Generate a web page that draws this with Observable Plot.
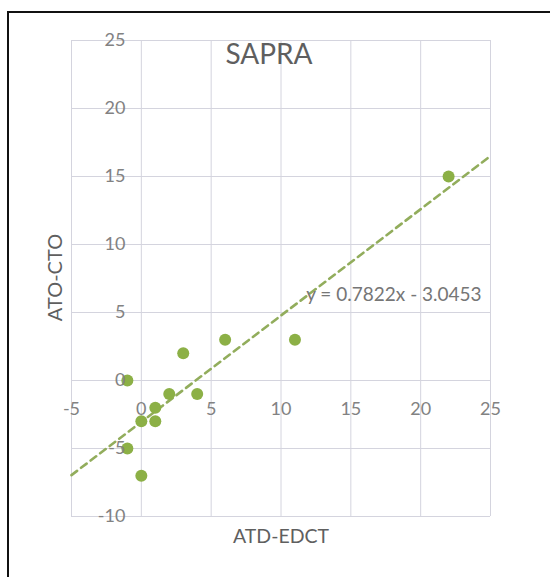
<!DOCTYPE html>
<html>
<head>
<meta charset="utf-8">
<script src="https://cdn.jsdelivr.net/npm/d3@7"></script>
<script src="https://cdn.jsdelivr.net/npm/@observablehq/plot@0.6"></script>
<style>
  html, body { margin: 0; padding: 0; background: #fff; }
  #wrap { position: relative; width: 550px; height: 577px; overflow: hidden; }
  #border { position: absolute; left: 7px; top: 11px; width: 600px; height: 600px;
            border-left: 2px solid #111; border-top: 2px solid #111; pointer-events: none; }
</style>
</head>
<body>
<div id="wrap"><div id="border"></div></div>
<script>
// Data
const atdEdct = [22, 11, 6, 3, -1, 2, 4, 1, 0, 1, -1, 0];
const atoCto  = [15, 3, 3, 2, 0, -1, -1, -2, -3, -3, -5, -7];
const xTicks = [-5, 0, 5, 10, 15, 20, 25];
const yTicks = [-10, -5, 0, 5, 10, 15, 20, 25];
const trendSlope = 0.7822;
const trendIntercept = -3.0453;
const equationLabel = "y = 0.7822x - 3.0453";
const chartTitle = "SAPRA";
const xTitle = "ATD-EDCT";
const yTitle = "ATO-CTO";

const points = atdEdct.map((x, i) => ({x, y: atoCto[i]}));
const xDomain = [xTicks[0], xTicks[xTicks.length - 1]];
const trend = xDomain.map(x => ({x, y: trendSlope * x + trendIntercept}));

const tickColor = "#828282";
const green = "#8cb046";

const chart = Plot.plot({
  width: 550,
  height: 577,
  marginLeft: 71,
  marginRight: 60,
  marginTop: 40,
  marginBottom: 61,
  style: {fontFamily: "Lato, 'Open Sans', sans-serif", background: "transparent"},
  x: {domain: xDomain, axis: null},
  y: {domain: [yTicks[0], yTicks[yTicks.length - 1]], axis: null},
  marks: [
    Plot.gridX(xTicks, {stroke: "#d4d4de", strokeOpacity: 1, strokeWidth: 1}),
    Plot.gridY(yTicks, {stroke: "#d4d4de", strokeOpacity: 1, strokeWidth: 1}),
    Plot.line(trend, {x: "x", y: "y", stroke: "#92ad5c", strokeWidth: 2.6, strokeDasharray: "7,5"}),
    Plot.dot(points, {x: "x", y: "y", r: 6, fill: green, stroke: "none"}),
    // y tick labels next to the vertical axis at x = 0
    Plot.text(yTicks, {x: 0, y: d => d, text: d => String(d), textAnchor: "end", dx: -16,
      fontSize: 18, fill: tickColor}),
    // x tick labels below the horizontal axis at y = 0
    Plot.text(xTicks, {x: d => d, y: 0, text: d => String(d), dy: 29,
      fontSize: 18, fill: tickColor}),
    Plot.text([equationLabel], {x: 11.8, y: 6.3, text: d => d, textAnchor: "start",
      fontSize: 19, fill: "#767676"}),
    Plot.text([chartTitle], {frameAnchor: "top", lineAnchor: "middle", textAnchor: "middle",
      dx: -12, dy: 15, text: d => d, fontSize: 28, fill: "#5f5f5f"}),
    Plot.text([xTitle], {frameAnchor: "bottom", lineAnchor: "middle", textAnchor: "middle",
      dx: 0, dy: 20, text: d => d, fontSize: 19.5, fill: "#5f5f5f"}),
    Plot.text([yTitle], {frameAnchor: "left", lineAnchor: "middle", textAnchor: "middle",
      dx: -16, dy: -1, rotate: -90, text: d => d, fontSize: 20, fill: "#5f5f5f"})
  ]
});
chart.style.position = "absolute";
chart.style.left = "0px";
chart.style.top = "0px";
document.getElementById("wrap").insertBefore(chart, document.getElementById("border"));
</script>
</body>
</html>
